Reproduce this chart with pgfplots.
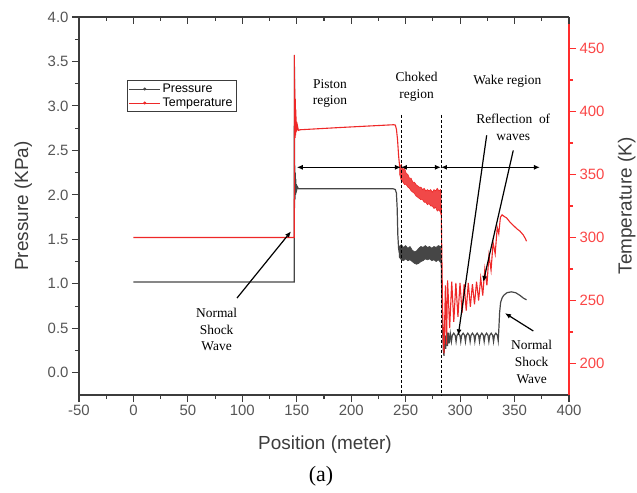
\documentclass[border=0pt]{standalone}
\usepackage{fontspec}
\setmainfont{Liberation Serif}
\newfontfamily\arialfont{Liberation Sans}
\usepackage{pgfplots}
\pgfplotsset{compat=1.18}
\usetikzlibrary{arrows.meta}

\definecolor{axgray}{RGB}{60,60,60}
\definecolor{tickgray}{RGB}{85,85,85}
\definecolor{presscol}{RGB}{70,70,70}
\definecolor{tempcol}{RGB}{238,40,40}
\definecolor{tempaxis}{RGB}{255,45,45}
\definecolor{templabel}{RGB}{250,70,70}

\tikzset{
  lab/.style={font=\arialfont\fontsize{19}{19}\selectfont, text=axgray},
  tlab/.style={font=\arialfont\fontsize{15}{15}\selectfont},
}
\pgfplotsset{
  common/.style={
    scale only axis, width=490bp, height=378bp,
    xmin=-50, xmax=400,
    at={(0,0)}, anchor=south west,
    major tick length=7bp, minor tick length=4bp,
    clip=false,
    tick style={line width=1.1bp},
  },
}

\begin{document}
\begin{tikzpicture}
% pressure, left axis
\begin{axis}[common,
  ymin=-0.25, ymax=4,
  axis x line*=bottom, axis y line*=left,
  tick align=outside,
  axis line style={axgray, line width=1.3bp},
  tick style={axgray},
  xtick={-50,0,50,100,150,200,250,300,350,400}, minor x tick num=1,
  xticklabels={-50,0,50,100,150,200,250,300,350,400},
  ytick={0,0.5,1,1.5,2,2.5,3,3.5,4}, minor y tick num=1,
  yticklabels={0.0,0.5,1.0,1.5,2.0,2.5,3.0,3.5,4.0},
  ticklabel style={tlab, text=tickgray},
  xlabel={Position (meter)},
  xlabel style={lab, at={(axis description cs:0.502,-0.13)}, anchor=center},
  ylabel={Pressure (KPa)},
  ylabel style={lab, at={(axis description cs:-0.114,0.5)}, anchor=center},
]
\addplot[presscol, line width=1.2bp] coordinates {
(0,1.02)(147.7,1.02)(147.8,3.57)(148.0,1.85)(148.2,2.33)(148.4,1.95)(148.6,2.25)(148.8,2.0)(149.0,2.18)(149.3,2.03)(149.6,2.12)(150,2.06)(150.6,2.09)(151.5,2.07)(180,2.07)(220,2.07)(238,2.07)(240.5,2.06)(241.5,2.02)(242.2,1.85)(242.8,1.55)(243.5,1.40)(244.2,1.35)
};
% choked region, noisy band
\addplot[draw=presscol, fill=presscol, line width=0.6bp] coordinates {
(244,1.42)(246,1.44)(248,1.41)(250,1.43)(252,1.40)(254,1.42)(256,1.38)(258,1.36)(260,1.37)(262,1.40)(264,1.42)(266,1.41)(268,1.43)(270,1.41)(272,1.42)(274,1.40)(276,1.42)(278,1.41)(280,1.43)(282,1.42)(282.6,1.30)
(282,1.24)(280,1.27)(278,1.25)(276,1.27)(274,1.26)(272,1.28)(270,1.27)(268,1.28)(266,1.26)(264,1.25)(262,1.23)(260,1.22)(258,1.23)(256,1.25)(254,1.27)(252,1.26)(250,1.28)(248,1.26)(246,1.27)(244,1.30)
} --cycle;
% wake region
\addplot[presscol, line width=1.2bp] coordinates {
(282.6,1.33)(283,1.0)(283.8,0.55)(284.6,0.25)(285.2,0.19)(286,0.42)(286.8,0.27)(287.6,0.46)(288.4,0.30)(289.2,0.45)(290,0.33)(291,0.44)
(292,0.35)(292.8,0.42)(294.15,0.445)(295.5,0.42)
(296.3,0.35)(297.1,0.42)(298.45,0.445)(299.8,0.42)
(300.6,0.35)(301.4,0.42)(302.75,0.445)(304.1,0.42)
(304.9,0.35)(305.7,0.42)(307.05,0.445)(308.4,0.42)
(309.2,0.35)(310,0.42)(311.35,0.445)(312.7,0.42)
(313.5,0.35)(314.3,0.42)(315.65,0.445)(317,0.42)
(317.8,0.35)(318.6,0.42)(319.95,0.445)(321.3,0.42)
(322.1,0.35)(322.9,0.42)(324.25,0.445)(325.6,0.42)
(326.4,0.35)(327.2,0.42)(328.55,0.445)(329.9,0.42)
(330.7,0.35)(331.5,0.42)(332.85,0.445)(334.2,0.42)
(335,0.36)(335.6,0.5)(336.3,0.68)(337.2,0.79)(338.5,0.84)(340,0.87)(343,0.90)(347,0.91)(351,0.90)(355,0.87)(358,0.84)(361,0.82)
};
\end{axis}

% temperature, right axis
\begin{axis}[common,
  ymin=175, ymax=475,
  axis y line*=right, axis x line=none,
  tick align=outside,
  axis line style={tempaxis, line width=1.3bp},
  tick style={tempaxis},
  ytick={200,250,300,350,400,450}, minor y tick num=1,
  yticklabels={200,250,300,350,400,450},
  yticklabel style={tlab, text=templabel},
  ylabel={Temperature (K)},
  ylabel style={lab, at={(axis description cs:1.118,0.5)}, anchor=center},
]
\addplot[tempcol, line width=1.1bp] coordinates {
(0,300)(147.7,300)(147.8,445)(148.0,380)(148.2,418)(148.4,379)(148.6,410)(148.8,381)(149.0,402)(149.2,383)(149.4,396)(149.6,384)(149.9,392)(150.3,385)(150.8,388)(151.5,385)(153,385.5)(190,387.3)(239,389.5)(240.5,389.2)(241.5,386)(242.5,378)(243.5,365)(244.5,356)
};
\addplot[draw=tempcol, fill=tempcol!85!white, line width=0.6bp] coordinates {
(244.5,356)(246,358)(247.5,354)(249,355)(250.5,351)(252,350)(253.5,347)(255,347)(256.5,344)(258,344)(259.5,342)(261,341)(262.5,340)(264,340)(265.5,338)(267,339)(268.5,337)(270,338)(271.5,337)(273,338)(274.5,336)(276,338)(277.5,337)(279,339)(280.5,337)(282,338)(282.6,334)
(282.6,318)(282,320)(280.5,322)(279,321)(277.5,324)(276,323)(274.5,325)(273,325)(271.5,327)(270,326)(268.5,328)(267,328)(265.5,330)(264,330)(262.5,331)(261,332)(259.5,333)(258,335)(256.5,336)(255,337)(253.5,339)(252,340)(250.5,342)(249,342)(247.5,344)(246,345)(244.5,350)
} --cycle;
\addplot[tempcol, line width=1.1bp] coordinates {
(282.6,326)(283,300)(283.8,250)(284.6,215)(285.2,208)(286.5,262)(287.5,215)(288.5,266)(290.4,228)(292.3,265)(294.2,233)(296.1,264)(298,237)(299.9,264)(301.8,240)(303.7,263)(305.6,242)(307.5,264)(309.4,245)(311.3,263)(313.2,247)(315.1,265)(317,250)(318.9,268)(320.8,254)(322.7,275)(324.6,262)(326.5,286)(328.4,274)(330.3,296)(332.2,287)(334.1,308)(335.5,303)(337,316)(338.5,318)(340,317)(342.7,315.5)(346,312)(349,309.5)(352,307)(355,305)(358,302)(360,299)(361,297)
};
\end{axis}

% top ticks, annotations and legend
\begin{axis}[common,
  ymin=-0.25, ymax=4,
  axis x line*=top, axis y line=none,
  tick align=inside,
  axis line style={axgray, line width=1.3bp},
  tick style={axgray},
  xtick={-50,0,50,100,150,200,250,300,350,400}, minor x tick num=1,
  xticklabels={},
  legend style={at={(0.098,0.833)}, anchor=north west, draw=axgray, line width=0.6bp,
    font=\arialfont\fontsize{12.5}{13}\selectfont, inner sep=1.5bp, row sep=0bp},
  legend cell align=left,
  legend image code/.code={\draw[#1] (0bp,0bp) -- (31bp,0bp); \fill[#1] (15.5bp,0bp) circle (1.1bp);},
]
\addlegendimage{presscol, line width=0.8bp}
\addlegendentry{Pressure}
\addlegendimage{tempcol, line width=0.8bp}
\addlegendentry{Temperature}

\draw[dash pattern=on 3bp off 2bp, line width=0.7bp] (axis cs:245.7,2.9) -- (axis cs:245.7,-0.25);
\draw[dash pattern=on 3bp off 2bp, line width=0.7bp] (axis cs:282.4,2.9) -- (axis cs:282.4,-0.25);

\draw[{Latex[length=6bp,width=5bp]}-{Latex[length=6bp,width=5bp]}, line width=1.2bp] (axis cs:150,2.31) -- (axis cs:245.7,2.31);
\draw[{Latex[length=6bp,width=5bp]}-{Latex[length=6bp,width=5bp]}, line width=1.2bp] (axis cs:245.7,2.31) -- (axis cs:282.4,2.31);
\draw[{Latex[length=6bp,width=5bp]}-{Latex[length=6bp,width=5bp]}, line width=1.2bp] (axis cs:282.4,2.31) -- (axis cs:373.3,2.31);

\draw[-{Latex[length=6bp,width=5bp]}, line width=1.2bp] (axis cs:95.1,0.84) -- (axis cs:144.7,1.59);
\draw[-{Latex[length=6bp,width=5bp]}, line width=1.2bp] (axis cs:367.2,0.47) -- (axis cs:341.2,0.67);
\draw[-{Latex[length=6bp,width=5bp]}, line width=1.2bp] (axis cs:324.4,2.67) -- (axis cs:298.3,0.42);
\draw[-{Latex[length=6bp,width=5bp]}, line width=1.2bp] (axis cs:348.8,2.50) -- (axis cs:321.3,1.02);

\begin{scope}[every node/.style={font=\fontsize{13.5}{17}\selectfont, align=center, inner sep=0pt}]
\node at (axis cs:180.5,3.14) {Piston\\region};
\node at (axis cs:260,3.22) {Choked\\region};
\node at (axis cs:343.3,3.28) {Wake region};
\node at (axis cs:348.8,2.755) {Reflection\ \ of\\waves};
\node at (axis cs:76.4,0.487) {Normal\\Shock\\Wave};
\node at (axis cs:365.7,0.12) {Normal\\Shock\\Wave};
\end{scope}
\end{axis}

\node[font=\fontsize{22}{22}\selectfont] at (242bp,-81bp) {(a)};
\pgfresetboundingbox
\path[use as bounding box] (-79bp,-98bp) rectangle (558bp,395bp);
\end{tikzpicture}
\end{document}
